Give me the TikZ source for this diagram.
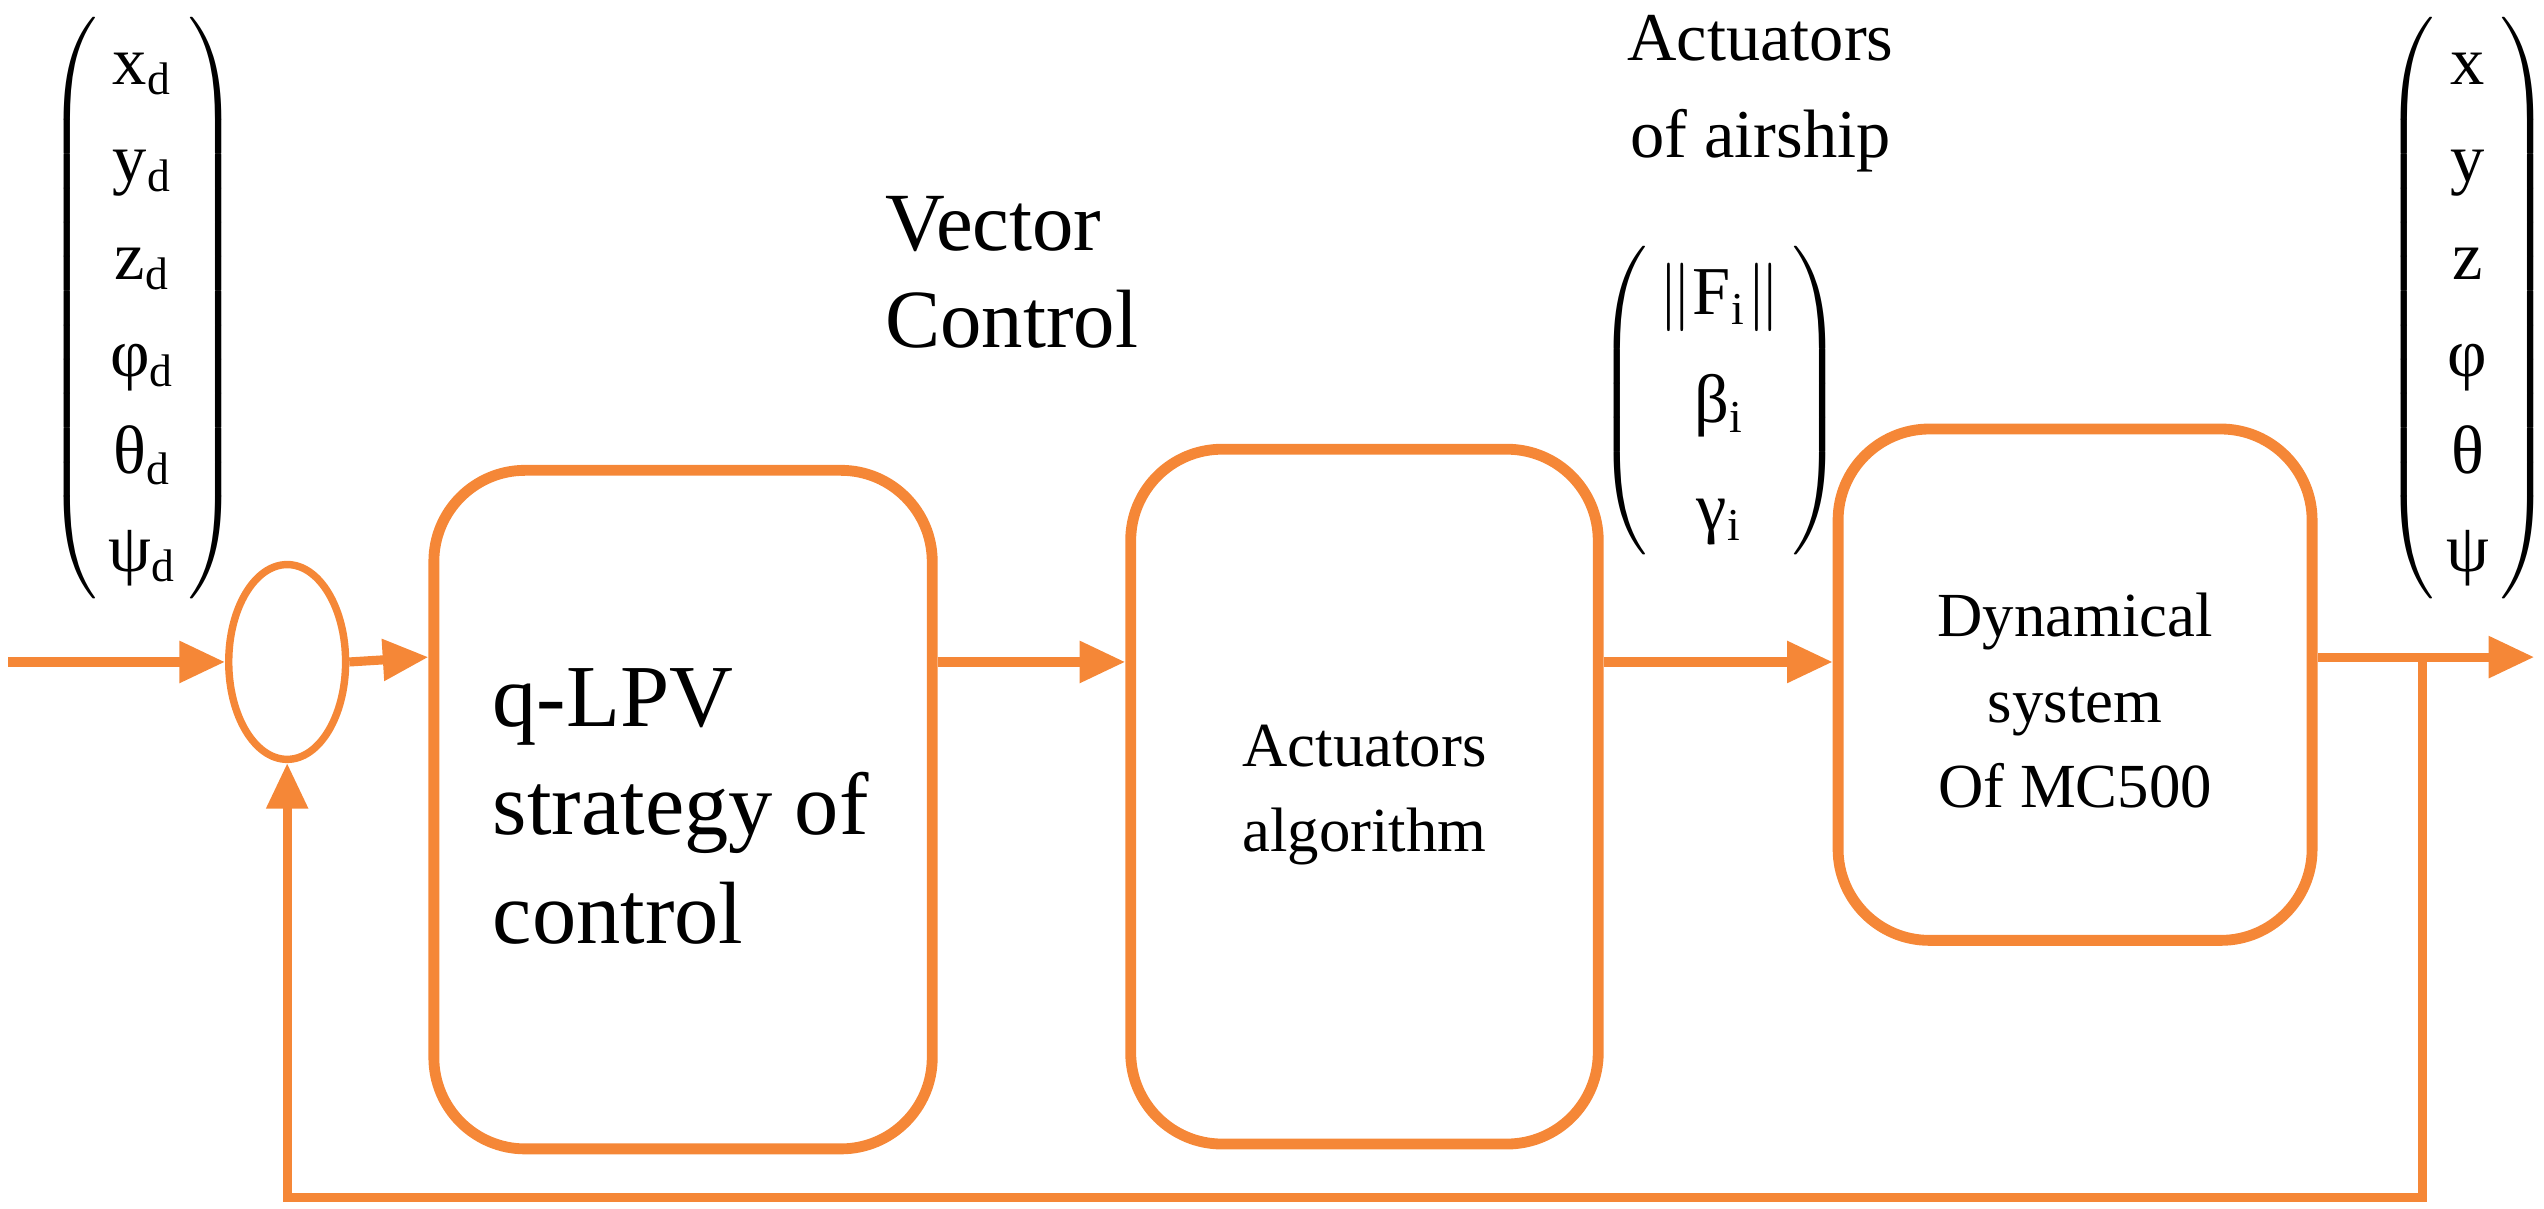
\documentclass[tikz,border=0pt]{standalone}
\usepackage{fontspec}
\setmainfont{Liberation Serif}
\usetikzlibrary{arrows.meta,shapes.geometric}
\definecolor{org}{RGB}{245,135,55}
\newcommand{\mcol}[2]{$\left(\vcenter{\hbox{\renewcommand\arraystretch{#1}\begin{tabular}{@{\,}c@{\,}}#2\end{tabular}}}\right)$}
\begin{document}
\begin{tikzpicture}[x=0.01cm,y=-0.01cm,
  blk/.style={draw=org,line width=1.9pt,rounded corners=16pt,inner sep=0pt},
  ln/.style={draw=org,line width=1.6pt},
  arr/.style={ln,-{Triangle[length=8pt,width=7pt]}},
  lbl/.style={align=center,inner sep=0pt}]
\useasboundingbox (0,0) rectangle (1568,745);
\node[draw=org,line width=1.3pt,ellipse,minimum width=0.72cm,minimum height=1.2cm,inner sep=0pt] (s) at (177,408) {};
\node[blk,minimum width=3.07cm,minimum height=4.18cm] (b1) at (421,499) {};
\node[lbl,font=\fontsize{15.5}{19}\selectfont,align=left,anchor=west] at (303,497) {q-LPV\\strategy of\\control};
\node[blk,minimum width=2.88cm,minimum height=4.28cm] (b2) at (841,491) {};
\node[lbl,font=\fontsize{11}{15}\selectfont] at (841,490) {Actuators\\algorithm};
\node[blk,minimum width=2.92cm,minimum height=3.15cm] (b3) at (1279,422) {};
\node[lbl,font=\fontsize{11}{15}\selectfont] at (1279,432) {Dynamical\\system\\Of MC500};
\coordinate (in) at (5,408);
\coordinate (out) at (1562,405);
\coordinate (fb) at (1493,405);
\draw[arr] (in) -- (s.west);
\draw[arr] (s.east) -- (b1.west|-0,405);
\draw[arr] (b1.east|-0,408) -- (b2.west|-0,408);
\draw[arr] (b2.east|-0,408) -- (b3.west|-0,408);
\draw[arr] (b3.east|-0,405) -- (out);
\draw[arr] (fb) -- (1493,738) -- (177,738) -- (s.south);
\node[lbl,font=\fontsize{14.5}{17}\selectfont,align=left,anchor=west] at (545,168) {Vector\\Control};
\node[lbl,font=\fontsize{12}{17}\selectfont] at (1085,58) {Actuators\\of airship};
\node[lbl,font=\fontsize{12}{14}\selectfont] at (88,190) {\mcol{1.22}{x$_{\mathrm d}$\\ y$_{\mathrm d}$\\ z$_{\mathrm d}$\\ φ$_{\mathrm d}$\\ θ$_{\mathrm d}$\\ ψ$_{\mathrm d}$}};
\node[lbl,font=\fontsize{12}{14}\selectfont] at (1521,190) {\mcol{1.22}{x\\ y\\ z\\ φ\\ θ\\ ψ}};
\node[lbl,font=\fontsize{12}{14}\selectfont] at (1060,247) {\mcol{1.35}{$\|$F$_{\mathrm i}$$\|$\\ β$_{\mathrm i}$\\ γ$_{\mathrm i}$}};
\end{tikzpicture}
\end{document}
